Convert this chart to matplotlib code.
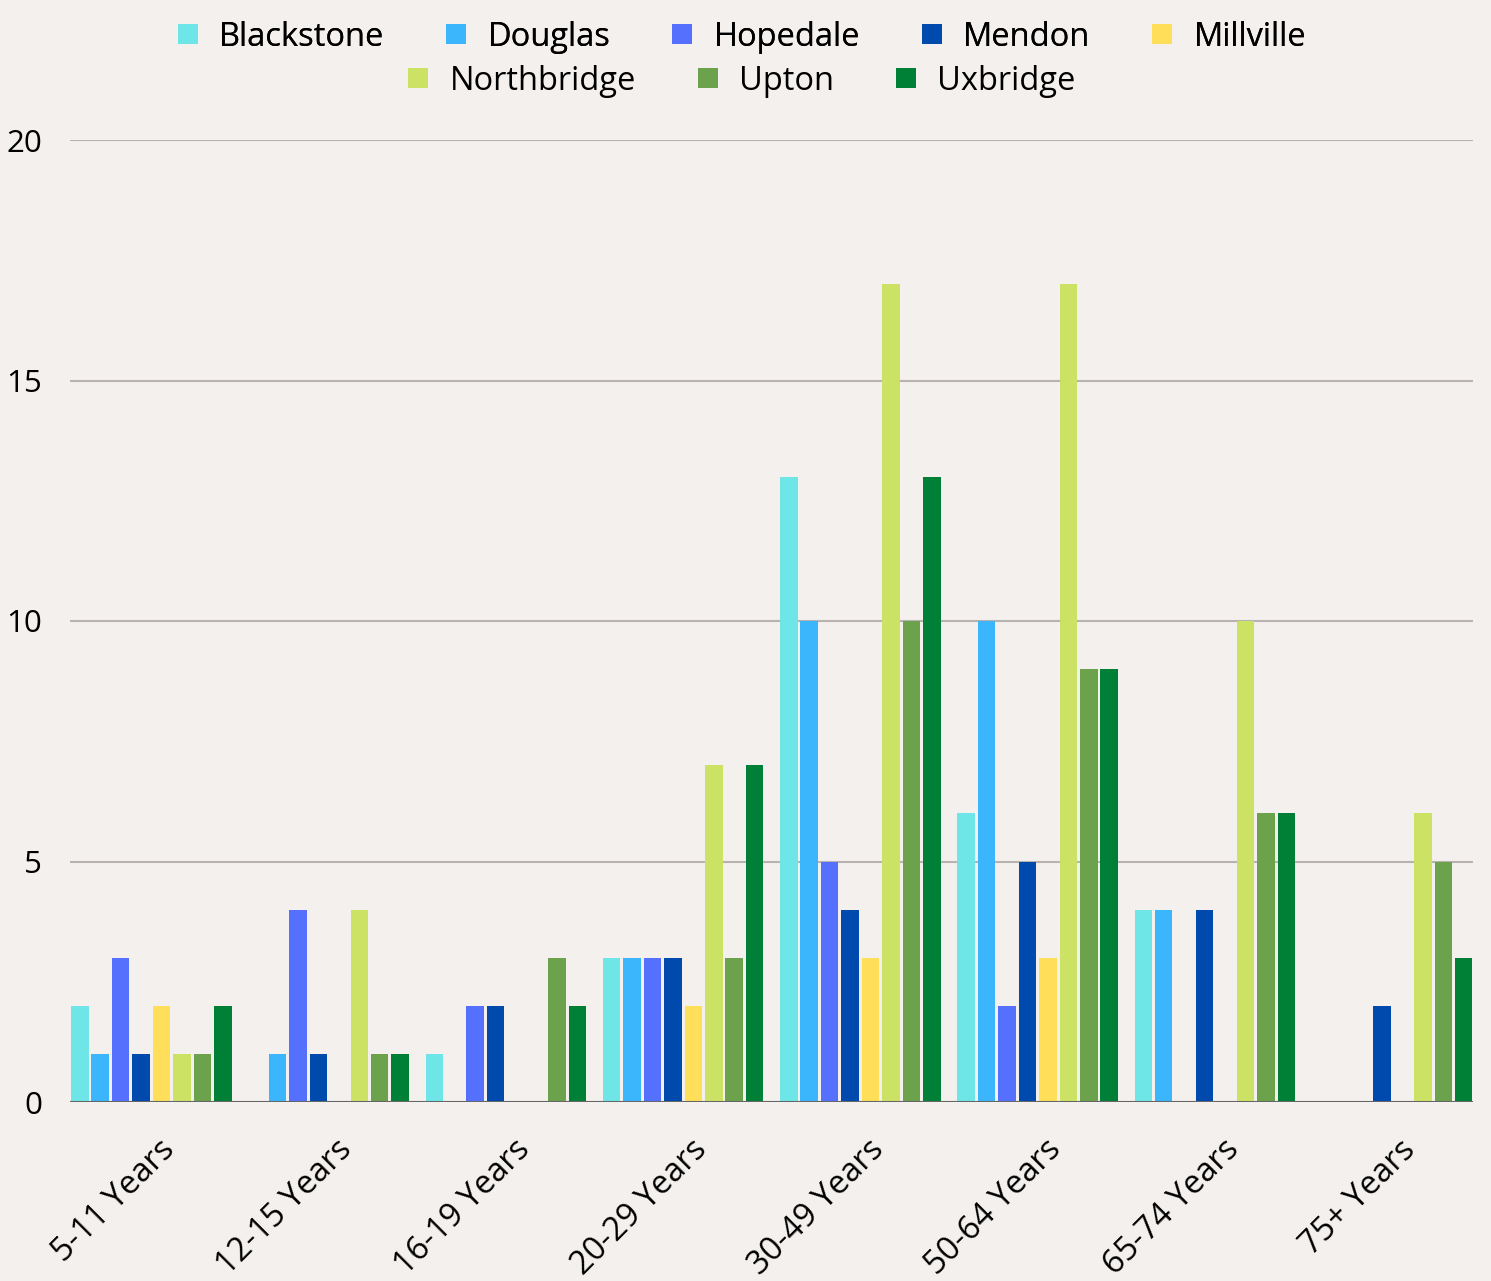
import matplotlib
matplotlib.use("Agg")
import matplotlib.pyplot as plt
from matplotlib.patches import Patch
from matplotlib.transforms import ScaledTranslation
import numpy as np

categories = ["5-11 Years", "12-15 Years", "16-19 Years", "20-29 Years",
              "30-49 Years", "50-64 Years", "65-74 Years", "75+ Years"]
towns = ["Blackstone", "Douglas", "Hopedale", "Mendon", "Millville",
         "Northbridge", "Upton", "Uxbridge"]
blackstone = [2, 0, 1, 3, 13, 6, 4, 0]
douglas = [1, 1, 0, 3, 10, 10, 4, 0]
hopedale = [3, 4, 2, 3, 5, 2, 0, 0]
mendon = [1, 1, 2, 3, 4, 5, 4, 2]
millville = [2, 0, 0, 2, 3, 3, 0, 0]
northbridge = [1, 4, 0, 7, 17, 17, 10, 6]
upton = [1, 1, 3, 3, 10, 9, 6, 5]
uxbridge = [2, 1, 2, 7, 13, 9, 6, 3]
yticks = [0, 5, 10, 15, 20]

series = [blackstone, douglas, hopedale, mendon, millville, northbridge, upton, uxbridge]
colors = ["#6ee6e8", "#3bb5fc", "#5470fd", "#004aad", "#ffde59",
          "#cbe265", "#6ba24b", "#008037"]

bg = "#f3f0ed"
plt.rcParams['font.family'] = ['Open Sans', 'DejaVu Sans']

fig = plt.figure(figsize=(14.91, 12.81), dpi=100, facecolor=bg)
ax = fig.add_axes([70/1491, 1 - 1102/1281, 1403/1491, (1102-140)/1281])
ax.set_facecolor(bg)

n = len(series)
x = np.arange(len(categories))
pitch = 0.1154
width = 0.0988
span = (n - 1) * pitch + width
for k, (vals, c, name) in enumerate(zip(series, colors, towns)):
    ax.bar(x - 0.5 + k*pitch, vals, width=width, align='edge',
           color=c, label=name, zorder=3)

ax.set_xlim(-0.5 - 0.0056, len(categories) - 1.5 + span + 0.003)
ax.set_ylim(0, 20)
ax.set_yticks(yticks)
ax.set_yticklabels([str(v) for v in yticks], fontsize=22.5)
ax.tick_params(axis='y', length=0, pad=20)
ax.yaxis.grid(True, color="#b8b3b0", lw=1.5, zorder=0)
ax.axhline(0, color="#666666", lw=2.2, zorder=4)
for s in ax.spines.values():
    s.set_visible(False)

ax.set_xticks(x - 0.5 + span / 2)
ax.set_xticklabels(categories, rotation=45, ha='right', va='center',
                   rotation_mode='anchor', fontsize=23.5)
ax.tick_params(axis='x', length=0, pad=31)
off = ScaledTranslation(19/100, 0, fig.dpi_scale_trans)
for lab in ax.get_xticklabels():
    lab.set_transform(lab.get_transform() + off)

handles = [Patch(facecolor=c, edgecolor='none') for c in colors]
kw = dict(loc='center', frameon=False, fontsize=23.5, handlelength=0.61, handleheight=0.61,
          handletextpad=0.65, columnspacing=1.9, borderaxespad=0, borderpad=0)
leg1 = fig.legend(handles[:5], towns[:5], bbox_to_anchor=(742/1491, 1 - 37/1281), ncol=5, **kw)
leg2 = fig.legend(handles[5:], towns[5:], bbox_to_anchor=(742/1491, 1 - 81/1281), ncol=3, **kw)
fig.add_artist(leg1)

fig.savefig("out.png", dpi=100, facecolor=bg)
